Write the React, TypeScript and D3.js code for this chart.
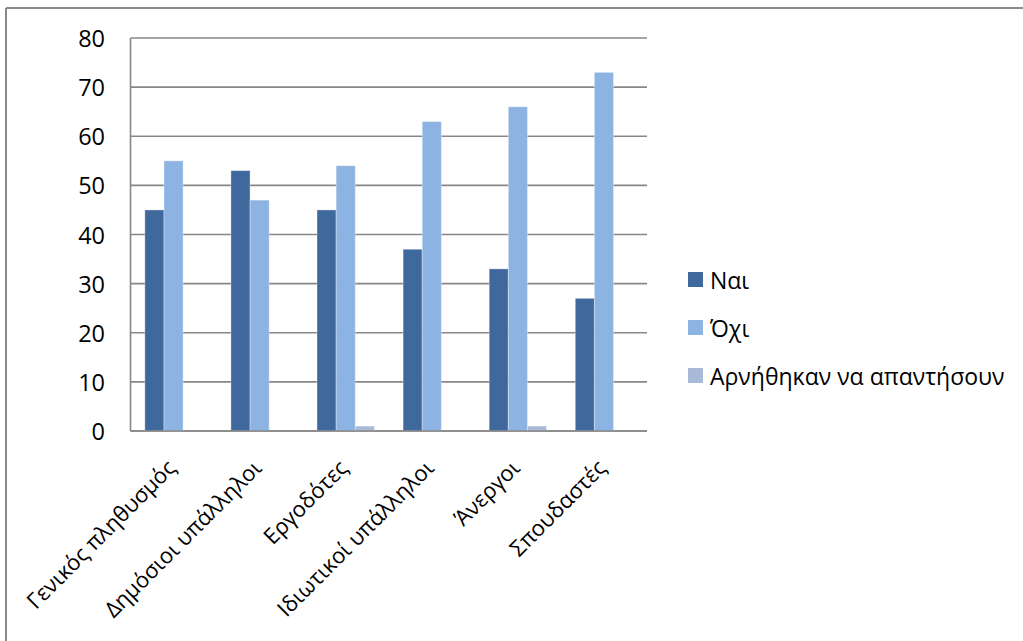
import React from "react";
import * as d3 from "d3";

const categories = [
  "Γενικός πληθυσμός",
  "Δημόσιοι υπάλληλοι",
  "Εργοδότες",
  "Ιδιωτικοί υπάλληλοι",
  "Άνεργοι",
  "Σπουδαστές",
];
const seriesNames = ["Ναι", "Όχι", "Αρνήθηκαν να απαντήσουν"];
const yesValues = [45, 53, 45, 37, 33, 27];
const noValues = [55, 47, 54, 63, 66, 73];
const refusedValues = [0, 0, 1, 0, 1, 0];
const yTicks = [0, 10, 20, 30, 40, 50, 60, 70, 80];
const seriesColors = ["#3f689c", "#8db3e2", "#a9b9d8"];

const W = 1023;
const H = 641;
const plot = { left: 130.5, right: 647, top: 38, bottom: 431 };
const FONT = "'Open Sans', 'Noto Sans', sans-serif";

export default function App() {
  const series = [yesValues, noValues, refusedValues];

  const x = d3
    .scaleBand<string>()
    .domain(categories)
    .range([plot.left, plot.right])
    .paddingInner(0)
    .paddingOuter(0);
  const inner = d3
    .scaleBand<number>()
    .domain([0, 1, 2])
    .range([0, x.bandwidth()])
    .paddingOuter(0.75)
    .paddingInner(0);
  const y = d3.scaleLinear().domain([0, 80]).range([plot.bottom, plot.top]);

  return (
    <svg
      width={W}
      height={H}
      style={{ position: "absolute", left: 0, top: 0, background: "#fff" }}
      fontFamily={FONT}
    >
      {/* chart frame */}
      <line x1={6} y1={8} x2={W} y2={8} stroke="#8a8a8a" strokeWidth={2} />
      <line x1={6} y1={8} x2={6} y2={H} stroke="#8a8a8a" strokeWidth={2} />

      {/* gridlines */}
      {yTicks.map((t) => (
        <line
          key={"g" + t}
          x1={plot.left}
          x2={plot.right}
          y1={y(t)}
          y2={y(t)}
          stroke="#878787"
          strokeWidth={1.6}
        />
      ))}
      {/* value axis */}
      <line
        x1={plot.left}
        x2={plot.left}
        y1={plot.top}
        y2={plot.bottom}
        stroke="#878787"
        strokeWidth={1.6}
      />
      {yTicks.map((t) => (
        <text
          key={"t" + t}
          x={105}
          y={y(t)}
          textAnchor="end"
          dominantBaseline="central"
          fontSize={23.5}
          fill="#000"
        >
          {t}
        </text>
      ))}

      {/* bars */}
      {series.map((vals, si) =>
        vals.map((v, ci) => {
          if (v <= 0) return null;
          const bx = (x(categories[ci]) as number) + (inner(si) as number);
          return (
            <rect
              key={`b${si}-${ci}`}
              x={bx}
              y={y(v)}
              width={inner.bandwidth()}
              height={y(0) - y(v)}
              fill={seriesColors[si]}
              stroke="rgba(255,255,255,0.35)"
              strokeWidth={1}
            />
          );
        })
      )}

      {/* category axis */}
      <line
        x1={plot.left}
        x2={plot.right}
        y1={plot.bottom}
        y2={plot.bottom}
        stroke="#878787"
        strokeWidth={1.6}
      />
      {categories.map((c) => {
        const cx = (x(c) as number) + x.bandwidth() / 2;
        return (
          <text
            key={"c" + c}
            transform={`translate(${cx - 3},${plot.bottom + 32}) rotate(-45)`}
            textAnchor="end"
            dominantBaseline="central"
            fontSize={22}
            fill="#000"
          >
            {c}
          </text>
        );
      })}

      {/* legend */}
      {seriesNames.map((n, i) => (
        <g key={"l" + n} transform={`translate(688,${272 + i * 48})`}>
          <rect width={15} height={15} fill={seriesColors[i]} />
          <text x={22} y={7.5} dominantBaseline="central" fontSize={23} fill="#000">
            {n}
          </text>
        </g>
      ))}
    </svg>
  );
}
